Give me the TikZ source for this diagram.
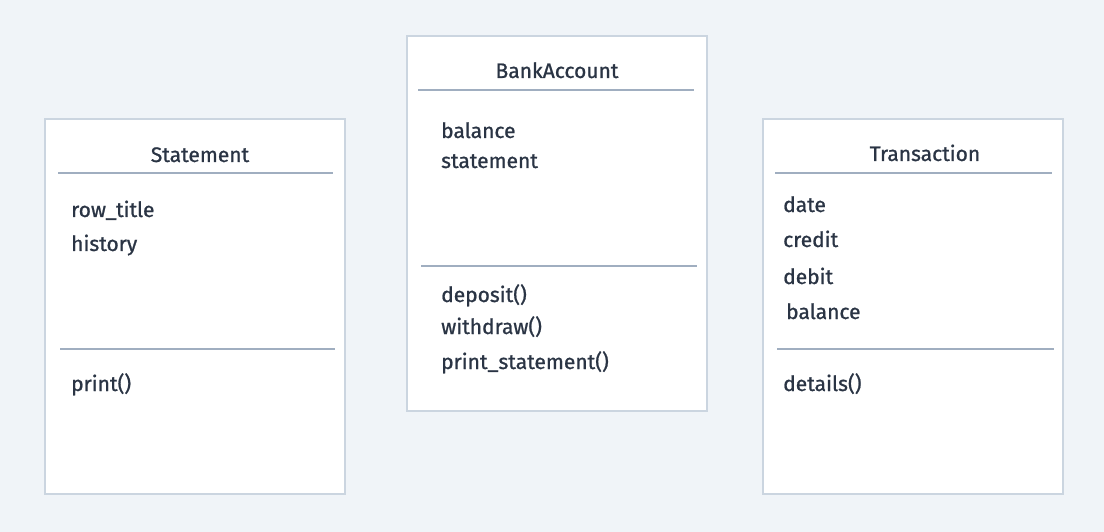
\documentclass[tikz,border=0pt]{standalone}
\usepackage{fontspec}
\newfontfamily\umlfont{Fira Sans}[FakeBold=0.9]
\definecolor{bg}{HTML}{F0F4F8}
\definecolor{boxline}{HTML}{CBD5E0}
\definecolor{sepline}{HTML}{A0AEC0}
\definecolor{txt}{HTML}{2A3444}
\tikzset{
  classbox/.style={draw=boxline, line width=2.5pt, fill=white},
  sep/.style={draw=sepline, line width=2.6pt},
  member/.style={anchor=base west, inner sep=0pt, text=txt, font=\umlfont\fontsize{21}{24}\selectfont},
  title/.style={anchor=base, inner sep=0pt, text=txt, font=\umlfont\fontsize{21}{24}\selectfont},
}
\begin{document}
\begin{tikzpicture}[x=1pt,y=-1pt]
\fill[bg] (0,0) rectangle (1104,532);
\useasboundingbox (0,0) rectangle (1104,532);
% Statement
\draw[classbox] (45,119) rectangle (345,494);
\node[title] (st) at (200,162) {Statement};
\coordinate (s1a) at (58,173); \coordinate (s1b) at (333,173);
\draw[sep] (s1a) -- (s1b);
\node[member] (st1) at (71,217) {row\_title};
\node[member] (st2) at (71,251) {history};
\coordinate (s2a) at (60,349); \coordinate (s2b) at (335,349);
\draw[sep] (s2a) -- (s2b);
\node[member] (st3) at (71,391) {print()};
% BankAccount
\draw[classbox] (407,36) rectangle (707,411);
\node[title] (ba) at (557,78) {BankAccount};
\coordinate (b1a) at (418,90); \coordinate (b1b) at (694,90);
\draw[sep] (b1a) -- (b1b);
\node[member] (ba1) at (441,138) {balance};
\node[member] (ba2) at (441,168) {statement};
\coordinate (b2a) at (421,266); \coordinate (b2b) at (697,266);
\draw[sep] (b2a) -- (b2b);
\node[member] (ba3) at (441,302) {deposit()};
\node[member] (ba4) at (441,334) {withdraw()};
\node[member] (ba5) at (441,369) {print\_statement()};
% Transaction
\draw[classbox] (763,119) rectangle (1063,494);
\node[title] (tr) at (925,161) {Transaction};
\coordinate (t1a) at (775,173); \coordinate (t1b) at (1052,173);
\draw[sep] (t1a) -- (t1b);
\node[member] (tr1) at (783,212) {date};
\node[member] (tr2) at (783,247) {credit};
\node[member] (tr3) at (783,284) {debit};
\node[member] (tr4) at (786,319) {balance};
\coordinate (t2a) at (777,349); \coordinate (t2b) at (1054,349);
\draw[sep] (t2a) -- (t2b);
\node[member] (tr5) at (783,391) {details()};
\end{tikzpicture}
\end{document}
